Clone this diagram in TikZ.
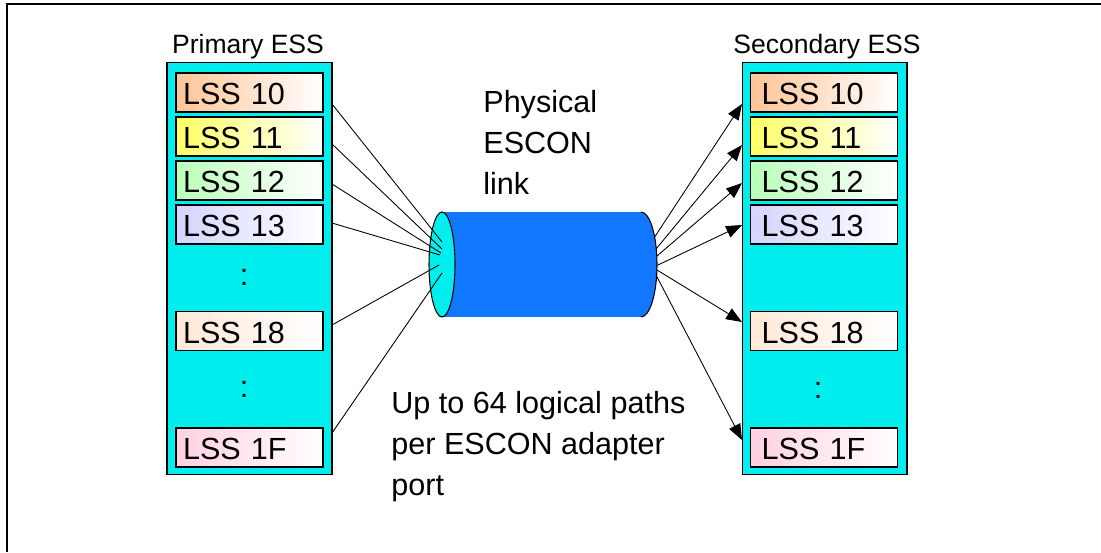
\documentclass[tikz,border=0pt]{standalone}
\usepackage{fontspec}
\setmainfont{Liberation Sans}
\usepackage{tikz}
\usetikzlibrary{calc,arrows.meta}

\definecolor{esscyan}{RGB}{0,238,238}
\definecolor{cylblue}{RGB}{17,119,255}
\definecolor{lssorange}{RGB}{255,196,150}
\definecolor{lssyellow}{RGB}{255,255,100}
\definecolor{lssgreen}{RGB}{185,255,185}
\definecolor{lssblue}{RGB}{212,212,255}
\definecolor{lsspeach}{RGB}{255,232,215}
\definecolor{lsspink}{RGB}{255,208,225}

\begin{document}
\begin{tikzpicture}[x=0.02cm,y=-0.02cm,
	essbox/.style={draw,line width=0.6pt,fill=esscyan,minimum width=3.3cm,minimum height=8.26cm,inner sep=0pt},
	lss/.style={draw,line width=0.6pt,right color=white,minimum width=2.94cm,minimum height=0.78cm,
		inner xsep=3.98pt,text width=75.7pt,align=left,text height=1.4em,text depth=0pt,font=\fontsize{17.4}{20}\selectfont},
	lssr/.style={lss,inner xsep=6.3pt,text width=71pt},
	esstitle/.style={anchor=base,inner sep=0pt,font=\fontsize{15.1}{18}\selectfont},
	essdots/.style={anchor=base,inner sep=0pt,font=\fontsize{17.4}{20}\selectfont},
	linknote/.style={anchor=north west,align=left,inner sep=0pt,font=\fontsize{17.4}{23.3}\selectfont},
	logline/.style={line width=0.5pt},
	logarrow/.style={logline,-{Triangle[length=9pt,width=7pt]}}]
	\useasboundingbox (0,0) rectangle (1101,552);
	\draw[line width=1pt] (7,552) -- (7,4) -- (1101,4);
	
	\node[essbox] (pess) at (249.5,268.5) {};
	\node[esstitle] (ptitle) at (248,53) {Primary ESS};
	\node[lss,left color=lssorange] (p10) at (249.5,92.5) {LSS 10};
	\node[lss,left color=lssyellow] (p11) at (249.5,136.5) {LSS 11};
	\node[lss,left color=lssgreen] (p12) at (249.5,180.5) {LSS 12};
	\node[lss,left color=lssblue] (p13) at (249.5,224.5) {LSS 13};
	\node[essdots] (pdots1) at (244,285) {:};
	\node[lss,left color=lsspeach] (p18) at (249.5,331) {LSS 18};
	\node[essdots] (pdots2) at (244,397) {:};
	\node[lss,left color=lsspink] (p1F) at (249.5,447.5) {LSS 1F};
	
	\node[essbox] (sess) at (824.5,268.5) {};
	\node[esstitle] (stitle) at (827,53) {Secondary ESS};
	\node[lssr,left color=lssorange] (s10) at (824,92.5) {LSS 10};
	\node[lssr,left color=lssyellow] (s11) at (824,136.5) {LSS 11};
	\node[lssr,left color=lssgreen] (s12) at (824,180.5) {LSS 12};
	\node[lssr,left color=lssblue] (s13) at (824,224.5) {LSS 13};
	\node[lssr,left color=lsspeach] (s18) at (824,331) {LSS 18};
	\node[essdots] (sdots) at (818,398) {:};
	\node[lssr,left color=lsspink] (s1F) at (824,447.5) {LSS 1F};
	
	\fill[cylblue] (442,212) rectangle (641,317);
	\fill[cylblue] (641,264.5) ellipse [x radius=16,y radius=52.5];
	\draw[line width=0.6pt] (641,212) arc[start angle=-90,end angle=90,x radius=16,y radius=52.5];
	\filldraw[fill=esscyan,line width=0.6pt] (442,264.5) ellipse [x radius=13,y radius=52.5];
	
	\foreach \n/\ya/\xb/\yb in {10/104/442/242,11/144/442/249,12/184/441/253,13/223/440/255,18/325/439/265,1F/433/442/273}{
		\coordinate (pout\n) at (332,\ya);
		\coordinate (cin\n) at (\xb,\yb);
		\draw[logline] (pout\n) -- (cin\n);
	}
	\foreach \n/\xa/\ya/\yb in {10/654/238/104,11/656/249/145,12/657/256/183,13/658/265/225,18/657/270/322,1F/656/275/440}{
		\coordinate (cout\n) at (\xa,\ya);
		\coordinate (sin\n) at (742,\yb);
		\draw[logarrow] (cout\n) -- (sin\n);
	}
	
	\node[linknote] (phys) at (483,90) {Physical\\ESCON\\link};
	\node[linknote] (paths) at (391,391) {Up to 64 logical paths\\per ESCON adapter\\port};
\end{tikzpicture}
\end{document}
